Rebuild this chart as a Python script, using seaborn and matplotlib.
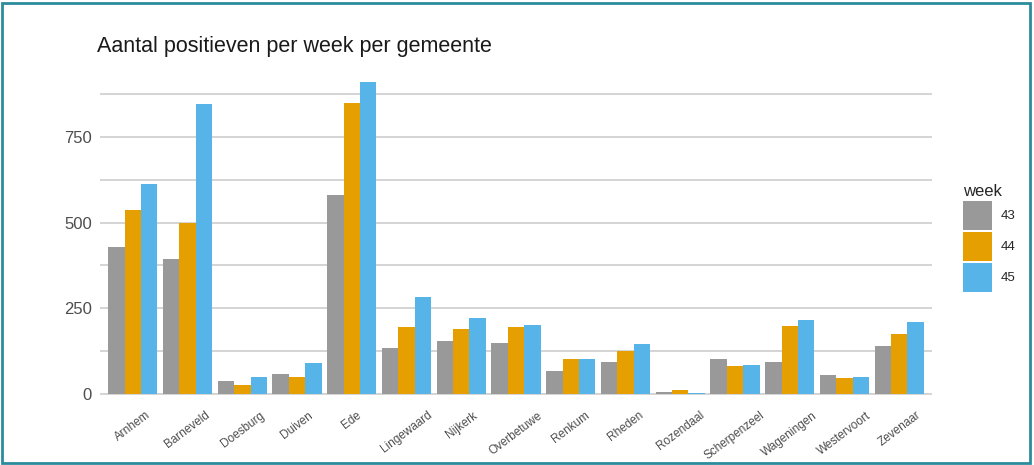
import pandas as pd
import matplotlib.pyplot as plt
import seaborn as sns
from matplotlib.patches import Rectangle

# gemeenten en aantal positieven per week
gemeenten = ["Arnhem", "Barneveld", "Doesburg", "Duiven", "Ede", "Lingewaard",
             "Nijkerk", "Overbetuwe", "Renkum", "Rheden", "Rozendaal",
             "Scherpenzeel", "Wageningen", "Westervoort", "Zevenaar"]
week43 = [430, 395, 39, 57, 580, 133, 155, 148, 66, 94, 7, 101, 94, 56, 140]
week44 = [538, 500, 25, 50, 849, 194, 190, 194, 101, 126, 11, 81, 199, 46, 175]
week45 = [614, 846, 50, 91, 911, 283, 221, 202, 101, 147, 4, 84, 217, 50, 209]
weken = ["43", "44", "45"]
kleuren = ["#999999", "#E69F00", "#56B4E9"]

df = pd.DataFrame({"gemeente": gemeenten * 3,
                   "week": [w for w in weken for _ in gemeenten],
                   "aantal": week43 + week44 + week45})

sns.set_theme(style="white")
plt.rcParams["font.family"] = ["Liberation Sans", "DejaVu Sans"]

fig = plt.figure(figsize=(10.34, 4.65), dpi=100)
ax = fig.add_axes([0.0967, 0.1196, 0.8047, 0.7384])

sns.barplot(data=df, x="gemeente", y="aantal", hue="week", palette=kleuren,
            width=0.9, gap=0, linewidth=0, saturation=1, ax=ax)

ax.set_xlim(-0.6, 14.6)
ax.set_ylim(-45, 957)
ax.set_yticks([0, 250, 500, 750])
ax.set_yticks([125, 375, 625, 875], minor=True)
ax.grid(True, which="both", axis="y", color="#D4D4D4", linewidth=1.4)
ax.set_axisbelow(True)
ax.tick_params(axis="y", length=0, labelsize=12, labelcolor="#4D4D4D", pad=6)
ax.tick_params(axis="x", length=0, labelsize=8.5, labelcolor="#4D4D4D", pad=0)
for lbl in ax.get_xticklabels():
    lbl.set_rotation(37)
    lbl.set_ha("center")
ax.set_xlabel("")
ax.set_ylabel("")
sns.despine(ax=ax, left=True, bottom=True)

# legenda: grote vierkante vakjes dicht op elkaar
sns.move_legend(ax, "upper left", bbox_to_anchor=(963 / 1034, 1 - 184 / 465),
                bbox_transform=fig.transFigure, frameon=False, title="week",
                fontsize=9.5, title_fontsize=12, handlelength=2.2, handleheight=3.0,
                labelspacing=0.15, handletextpad=0.65, borderpad=0, borderaxespad=0,
                alignment="left")

fig.text(97 / 1034, 1 - 52 / 465, "Aantal positieven per week per gemeente",
         fontsize=15.5, color="#1A1A1A", va="baseline", ha="left")

fig.patches.append(Rectangle((0.002, 0.004), 0.994, 0.99, transform=fig.transFigure,
                             fill=False, edgecolor="#2B8C9C", linewidth=2))

fig.savefig("out.png", dpi=100)
